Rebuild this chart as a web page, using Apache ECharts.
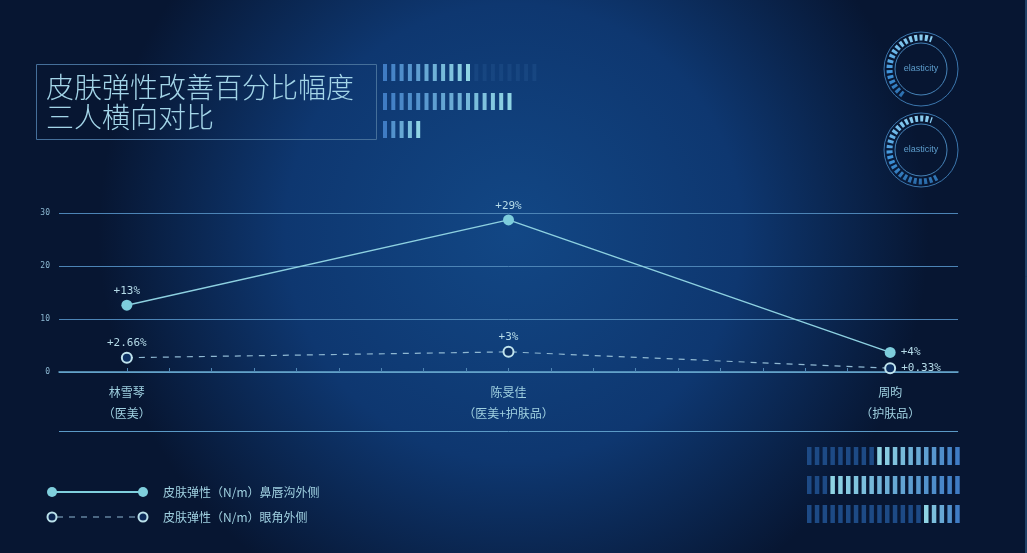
<!DOCTYPE html>
<html>
<head>
<meta charset="utf-8">
<script src="https://cdn.jsdelivr.net/npm/echarts@6/dist/echarts.min.js"></script>
<style>
  html, body { margin: 0; padding: 0; background: #0a1d40; }
  #chart { width: 1027px; height: 553px; }
</style>
</head>
<body>
<div id="chart"></div>
<script>
// 三个人
var people = ['林雪琴\n（医美）', '陈旻佳\n（医美+护肤品）', '周昀\n（护肤品）'];
// 鼻唇沟外侧
var noseValues = [12.6, 28.7, 3.7];
var noseLabels = ['+13%', '+29%', '+4%'];
// 眼角外侧
var eyeValues = [2.7, 3.8, 0.7];
var eyeLabels = ['+2.66%', '+3%', '+0.33%'];
var seriesNames = ['皮肤弹性（N/m）鼻唇沟外侧', '皮肤弹性（N/m）眼角外侧'];
var yTicks = [0, 10, 20, 30];

var STEP = 9; // each person sits 9 minor ticks apart
var monoFont = '"DejaVu Sans Mono", monospace';
var cjkFont = '"Noto Sans CJK SC", sans-serif';

function toPoints(vals) {
  return vals.map(function (v, i) { return [i * STEP, v]; });
}
function pointLabels(texts) {
  return texts.map(function (t, i) {
    if (i === texts.length - 1) return { position: 'right', distance: 5, formatter: t };
    return { position: 'top', distance: 3, formatter: t };
  });
}

var minorTicks = [];
for (var t = 0; t <= STEP * (people.length - 1); t++) minorTicks.push(t);

// decoration: blocks of little bars
function barRow(x0, y0, step, w, h, total, from, to, bright, dim) {
  var out = [];
  for (var i = 0; i < total; i++) {
    var on = i >= from && i < to;
    var k = on ? (i - from) / Math.max(1, to - from - 1) : 0;
    out.push({
      type: 'rect',
      shape: { x: x0 + i * step, y: y0, width: w, height: h },
      style: { fill: on ? (bright === 'up' ? mix('#3f7cc4', '#8fd4e4', k) : mix('#8fd4e4', '#3f7cc4', k)) : dim },
      silent: true
    });
  }
  return out;
}
function mix(a, b, k) {
  var pa = [1, 3, 5].map(function (p) { return parseInt(a.substr(p, 2), 16); });
  var pb = [1, 3, 5].map(function (p) { return parseInt(b.substr(p, 2), 16); });
  return 'rgb(' + pa.map(function (c, i) { return Math.round(c + (pb[i] - c) * k); }).join(',') + ')';
}
function ring(cx, cy, endDeg) {
  return [
    { type: 'circle', shape: { cx: cx, cy: cy, r: 37 }, style: { fill: 'none', stroke: '#3b76ad', lineWidth: 1 }, silent: true },
    { type: 'circle', shape: { cx: cx, cy: cy, r: 26 }, style: { fill: 'none', stroke: '#4683b8', lineWidth: 1 }, silent: true },
    {
      type: 'arc',
      shape: { cx: cx, cy: cy, r: 31.5, startAngle: endDeg * Math.PI / 180, endAngle: 290 * Math.PI / 180, clockwise: true },
      style: {
        fill: 'none', lineWidth: 6, lineDash: [3, 2.2],
        stroke: { type: 'linear', x: 0, y: 0, x2: 0, y2: 1, colorStops: [{ offset: 0, color: '#8fd0f0' }, { offset: 0.6, color: '#3f95dc' }, { offset: 1, color: '#2a6aa8' }] }
      },
      silent: true
    },
    {
      type: 'text', x: cx, y: cy,
      style: { text: 'elasticity', fill: '#5d9dcc', font: '9px "Liberation Sans", Arial, sans-serif', align: 'center', verticalAlign: 'middle' },
      silent: true
    }
  ];
}

var graphics = [];
// title box
graphics.push({
  type: 'rect', shape: { x: 36.5, y: 64.5, width: 340, height: 75 },
  style: { fill: 'rgba(0,0,0,0)', stroke: '#456f9a', lineWidth: 1 }, silent: true
});
graphics.push({
  type: 'text', x: 46, y: 72,
  style: { text: '皮肤弹性改善百分比幅度\n三人横向对比', fill: '#a3d5e8', font: '300 28px ' + cjkFont, lineHeight: 30 },
  silent: true
});
graphics = graphics
  .concat(barRow(383, 64, 8.3, 4, 17, 19, 0, 11, 'up', 'rgba(40,90,150,0.35)'))
  .concat(barRow(383, 93, 8.3, 4, 17, 16, 0, 16, 'up', 'rgba(40,90,150,0.35)'))
  .concat(barRow(383, 121, 8.3, 4, 17, 5, 0, 5, 'up', 'rgba(40,90,150,0.35)'))
  .concat(barRow(807, 447, 7.8, 4.5, 18, 20, 9, 20, 'down', '#1d4a85'))
  .concat(barRow(807, 476, 7.8, 4.5, 18, 20, 3, 20, 'down', '#1d4a85'))
  .concat(barRow(807, 505, 7.8, 4.5, 18, 20, 15, 20, 'down', '#1d4a85'))
  .concat(ring(921, 69, 125))
  .concat(ring(921, 150, 60));
// separator under the axis
graphics.push({
  type: 'line', shape: { x1: 59, y1: 431.5, x2: 958, y2: 431.5 },
  style: { stroke: '#5b9ac6', lineWidth: 1 }, silent: true
});
graphics.push({
  type: 'line', shape: { x1: 1026, y1: 0, x2: 1026, y2: 553 },
  style: { stroke: '#3c6c9c', lineWidth: 1 }, silent: true
});
// hand-made legend
graphics.push(
  { type: 'line', shape: { x1: 52, y1: 492, x2: 143, y2: 492 }, style: { stroke: '#7fcfdd', lineWidth: 2 }, silent: true },
  { type: 'circle', shape: { cx: 52, cy: 492, r: 5 }, style: { fill: '#7fcfdd' }, silent: true },
  { type: 'circle', shape: { cx: 143, cy: 492, r: 5 }, style: { fill: '#7fcfdd' }, silent: true },
  { type: 'text', x: 163, y: 492, style: { text: seriesNames[0], fill: '#9fd0e0', font: '12px ' + cjkFont, verticalAlign: 'middle' }, silent: true },
  { type: 'line', shape: { x1: 57, y1: 517, x2: 138, y2: 517 }, style: { stroke: '#8fb8d2', lineWidth: 1.2, lineDash: [6, 6] }, silent: true },
  { type: 'circle', shape: { cx: 52, cy: 517, r: 4.5 }, style: { fill: '#0b2550', stroke: '#b9e0ea', lineWidth: 2 }, silent: true },
  { type: 'circle', shape: { cx: 143, cy: 517, r: 4.5 }, style: { fill: '#0d2b5a', stroke: '#b9e0ea', lineWidth: 2 }, silent: true },
  { type: 'text', x: 163, y: 517, style: { text: seriesNames[1], fill: '#9fd0e0', font: '12px ' + cjkFont, verticalAlign: 'middle' }, silent: true }
);

var myChart = echarts.init(document.getElementById('chart'));
var option = {
  backgroundColor: {
    type: 'radial', x: 0.5, y: 0.42, r: 0.75,
    colorStops: [
      { offset: 0, color: '#124785' },
      { offset: 0.55, color: '#0e3770' },
      { offset: 1, color: '#071632' }
    ]
  },
  animation: false,
  grid: { left: 59, right: 69, top: 213, bottom: 181 },
  xAxis: {
    type: 'value',
    min: -1.6,
    max: 19.6,
    splitLine: { show: false },
    axisLine: { show: true, onZero: false, lineStyle: { color: '#6aaad0', width: 1.5 } },
    axisTick: { show: true, customValues: minorTicks, length: 4, inside: true, lineStyle: { color: '#4f86b4' } },
    axisLabel: {
      customValues: people.map(function (p, i) { return i * STEP; }),
      formatter: function (v) { return people[Math.round(v / STEP)] || ''; },
      color: '#9fd0e0', fontSize: 12, fontFamily: cjkFont, lineHeight: 21, margin: 10
    }
  },
  yAxis: {
    type: 'value',
    min: yTicks[0],
    max: yTicks[yTicks.length - 1],
    interval: 10,
    axisLine: { show: false },
    axisTick: { show: false },
    axisLabel: { color: '#8cb8d2', fontSize: 8, fontFamily: monoFont, margin: 9 },
    splitLine: { lineStyle: { color: '#4c84b6', width: 1 } }
  },
  series: [
    {
      name: seriesNames[0],
      type: 'line',
      data: toPoints(noseValues).map(function (p, i) { return { value: p, label: pointLabels(noseLabels)[i] }; }),
      symbol: 'circle',
      symbolSize: 11,
      itemStyle: { color: '#7dcddc' },
      lineStyle: { color: '#8dd0e0', width: 1.5 },
      label: { show: true, color: '#b5dbe8', fontSize: 11, fontFamily: monoFont },
      z: 3
    },
    {
      name: seriesNames[1],
      type: 'line',
      data: toPoints(eyeValues).map(function (p, i) { return { value: p, label: pointLabels(eyeLabels)[i] }; }),
      symbol: 'circle',
      symbolSize: 10,
      itemStyle: { color: '#0e3163', borderColor: '#c0e4ee', borderWidth: 2 },
      lineStyle: { color: '#8fb8d2', width: 1.2, type: [6, 6] },
      label: { show: true, color: '#b5dbe8', fontSize: 11, fontFamily: monoFont },
      z: 4
    }
  ],
  graphic: graphics
};
myChart.setOption(option, true);
</script>
</body>
</html>
